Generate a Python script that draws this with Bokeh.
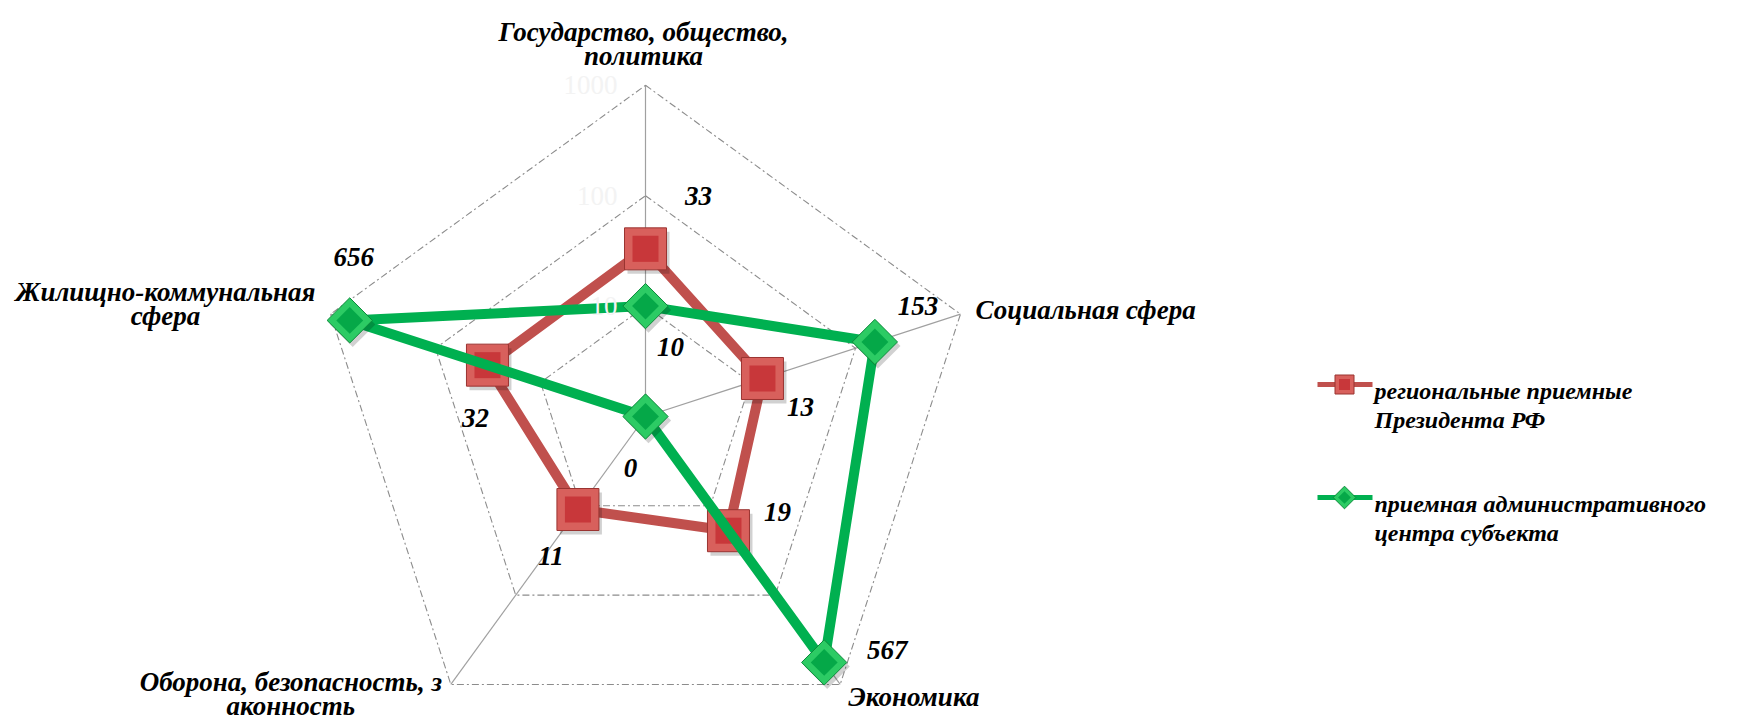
import numpy as np
from bokeh.plotting import figure
from bokeh.models import Range1d
from bokeh.core.properties import value
from bokeh.embed import file_html
from bokeh.resources import INLINE

# ---------------- data ----------------
categories = [
    "Государство, общество,\nполитика",
    "Социальная сфера",
    "Экономика",
    "Оборона, безопасность, з\nаконность",
    "Жилищно-коммунальная\nсфера",
]
series_names = [
    "региональные приемные\nПрезидента РФ",
    "приемная административного\nцентра субъекта",
]
red_values = [33, 13, 19, 11, 32]
green_values = [10, 153, 567, 0, 656]
tick_values = [10, 100, 1000]
tick_labels = ["10", "100", "1000"]

# ---------------- layout / style ----------------
W, H = 1745, 720
CX, CY = 645.0, 416.0          # centre of radar (page px)
DEC = 110.4                     # px per decade (log scale, centre = 1)
FONT = "Liberation Serif"
FS = "27px"
LEG_FS = "24px"
RED, GREEN = "#C0504D", "#00B050"

red_off = [(53, -53), (38, 29), (49, -19), (-27, 46), (-12, 53)]
green_off = [(25, 41), (43, -36), (63, -12), (-15, 51), (4, -63)]
# category label anchor offsets from outer vertex (dx, dy first line, align)
cat_off = [(-2, -53, "center"), (15, -4, "left"), (8, 13, "left"),
           (-160, -2, "center"), (-165, -22, "center")]
LINE_STEP = 24

n = len(categories)
angles = np.deg2rad(90 - 72 * np.arange(n))


def radius(v):
    return np.log10(np.maximum(np.asarray(v, dtype=float), 1.0)) * DEC


def xy(vals):
    r = radius(vals)
    return list(CX + r * np.cos(angles)), list(CY - r * np.sin(angles))


p = figure(width=W, height=H, output_backend="svg", toolbar_location=None,
           x_range=Range1d(0, W), y_range=Range1d(H, 0),
           min_border=0, outline_line_color=None)
p.axis.visible = False
p.grid.visible = False
p.background_fill_color = "white"
p.border_fill_color = "white"

rmax = max(tick_values)
vx, vy = xy([rmax] * n)

# spokes
p.segment(x0=[CX] * n, y0=[CY] * n, x1=vx, y1=vy, line_color="#A0A0A0", line_width=1.2)
# rings
for t in tick_values:
    gx, gy = xy([t] * n)
    p.line(gx + gx[:1], gy + gy[:1], line_color="#8C8C8C", line_width=1.1,
           line_dash="7 3 2 3")


def draw_series(vals, color, lw, marker, size_out, size_in, fill_out, line_out, fill_in, offs):
    x, y = xy(vals)
    p.line(x + x[:1], y + y[:1], line_color=color, line_width=lw, line_join="round")
    ang = np.pi / 4 if marker == "diamond" else 0.0
    p.scatter([a + 3 for a in x], [b + 4 for b in y], marker="square", size=size_out,
              angle=ang, fill_color="black", fill_alpha=0.18, line_color=None)
    p.scatter(x, y, marker="square", size=size_out, angle=ang, fill_color=fill_out,
              line_color=line_out, line_width=1)
    p.scatter(x, y, marker="square", size=size_in, angle=ang, fill_color=fill_in,
              line_color=None)
    lx = [a + o[0] for a, o in zip(x, offs)]
    ly = [b + o[1] for b, o in zip(y, offs)]
    p.text(lx, ly, text=[str(v) for v in vals], text_font=value(FONT),
           text_font_style="bold italic", text_font_size=FS, text_align="center",
           text_baseline="middle", text_color="black")


draw_series(red_values, RED, 10, "square", 42, 26, "#D8605C", "#9A3431", "#C8373A", red_off)
draw_series(green_values, GREEN, 10, "diamond", 32, 19, "#2CCB64", "#0B8A3A", "#05A848", green_off)

# faint tick labels (log axis)
tx, ty = [], []
for t in tick_values:
    r = radius(t)
    tx.append(CX - 28)
    ty.append(CY - r)
p.text(tx, ty, text=tick_labels, text_font=value(FONT), text_font_size=FS,
       text_align="right", text_baseline="middle", text_color="#F3F3F3")

# category labels
for i, lab in enumerate(categories):
    dx, dy, al = cat_off[i]
    lines = lab.split("\n")
    xs = [vx[i] + dx] * len(lines)
    ys = [vy[i] + dy + k * LINE_STEP for k in range(len(lines))]
    p.text(xs, ys, text=lines, text_font=value(FONT), text_font_style="bold italic",
           text_font_size=FS, text_align=al, text_baseline="middle", text_color="black")

# legend
leg_y = [384, 497]
leg_cols = [RED, GREEN]
for i, name in enumerate(series_names):
    yy = leg_y[i]
    p.line([1317, 1372], [yy, yy], line_color=leg_cols[i], line_width=5)
    if i == 0:
        p.scatter([1344], [yy], marker="square", size=19, fill_color="#D8605C",
                  line_color="#9A3431")
        p.scatter([1344], [yy], marker="square", size=11, fill_color="#C8373A",
                  line_color=None)
    else:
        p.scatter([1344], [yy], marker="square", size=16, angle=np.pi / 4,
                  fill_color="#2CCB64", line_color="#0B8A3A")
        p.scatter([1344], [yy], marker="square", size=9, angle=np.pi / 4,
                  fill_color="#05A848", line_color=None)
    lines = name.split("\n")
    p.text([1374] * len(lines), [yy + 6 + 29 * k for k in range(len(lines))], text=lines,
           text_font=value(FONT), text_font_style="bold italic", text_font_size=LEG_FS,
           text_align="left", text_baseline="middle", text_color="black")

open("out.html", "w").write(file_html(p, INLINE))
